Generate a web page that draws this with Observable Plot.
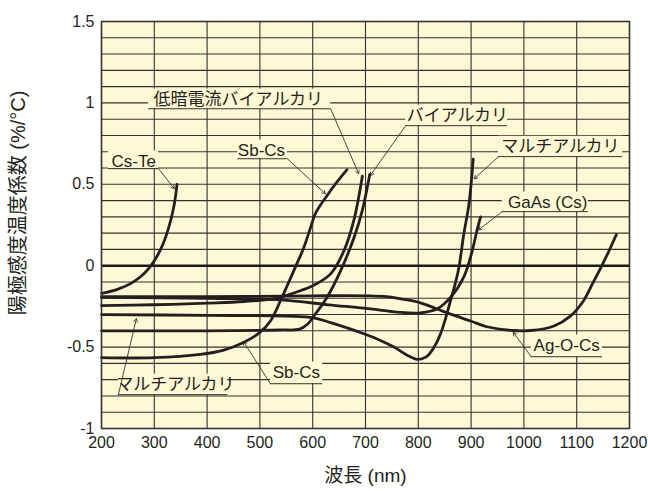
<!DOCTYPE html>
<html><head><meta charset="utf-8">
<script src="https://cdn.jsdelivr.net/npm/d3@7"></script>
<script src="https://cdn.jsdelivr.net/npm/@observablehq/plot@0.6"></script>
<style>body{margin:0;background:#fff;} svg{display:block}</style>
</head><body><div id="chart"></div>
<script>
// ---- data (wavelength nm, coefficient %/°C) ----
const csTe = [[200,-0.17],[230,-0.145],[255,-0.11],[275,-0.065],[290,-0.015],[300,0.03],[312,0.1],[322,0.18],[332,0.29],[338,0.38],[343,0.5]];
const sbCs = [[200,-0.565],[300,-0.565],[387,-0.545],[430,-0.52],[470,-0.47],[500,-0.41],[520,-0.34],[541,-0.2],[567,-0.01],[583,0.11],[596,0.235],[605,0.32],[627,0.43],[645,0.51],[665,0.59]];
const lowDarkBialkali = [[200,-0.245],[300,-0.24],[400,-0.23],[470,-0.22],[530,-0.2],[571,-0.16],[602,-0.12],[634,-0.05],[659,0.09],[678,0.28],[694,0.55]];
const bialkali = [[200,-0.40],[400,-0.40],[540,-0.395],[575,-0.39],[590,-0.36],[602,-0.31],[627,-0.195],[653,-0.03],[678,0.17],[694,0.34],[708,0.56]];
const multialkali = [[200,-0.30],[400,-0.305],[550,-0.31],[602,-0.32],[634,-0.35],[690,-0.41],[722,-0.45],[754,-0.5],[779,-0.55],[798,-0.575],[815,-0.56],[830,-0.5],[842,-0.42],[852,-0.32],[861,-0.215],[870,-0.11],[877,-0.01],[886,0.19],[896,0.38],[904,0.655]];
const gaAs = [[200,-0.195],[400,-0.2],[540,-0.21],[630,-0.24],[709,-0.265],[760,-0.285],[804,-0.29],[836,-0.265],[861,-0.195],[886,-0.07],[902,0.09],[911,0.215],[918,0.30]];
const agOCs = [[200,-0.19],[400,-0.19],[600,-0.185],[700,-0.185],[740,-0.19],[770,-0.205],[804,-0.228],[855,-0.29],[899,-0.34],[930,-0.375],[980,-0.398],[1013,-0.398],[1057,-0.37],[1088,-0.31],[1113,-0.215],[1130,-0.11],[1146,-0.01],[1161,0.09],[1175,0.19]];

const seriesNames = ["Cs-Te","Sb-Cs","低暗電流バイアルカリ","バイアルカリ","マルチアルカリ","GaAs (Cs)","Ag-O-Cs"];
const seriesData = [csTe, sbCs, lowDarkBialkali, bialkali, multialkali, gaAs, agOCs];

const xTicks = [200,300,400,500,600,700,800,900,1000,1100,1200];
const yTicks = [-1,-0.5,0,0.5,1,1.5];

// ---- annotation labels ----
const labelTexts = ["低暗電流バイアルカリ","バイアルカリ","マルチアルカリ","GaAs (Cs)","Cs-Te","Sb-Cs","マルチアルカリ","Sb-Cs","Ag-O-Cs"];
const labelX = [459,874,1069,1045,261,503,340,569,1081];
const labelY = [1.02,0.92,0.73,0.387,0.64,0.706,-0.731,-0.657,-0.491];
const underX1 = [289,776,952,959,213,458,232,520,1014];
const underX2 = [634,969,1187,1122,308,552,439,619,1149];
const underY = [0.964,0.86,0.67,0.332,0.596,0.657,-0.792,-0.725,-0.559];
const leadStartX = [634,776,952,959,308,552,232,520,1014];
const tipX = [687,709,906,914,338,624,266,469,980];
const tipY = [0.565,0.553,0.534,0.22,0.473,0.442,-0.326,-0.467,-0.41];

const rows = seriesData.flatMap((pts, i) => pts.map(([w, v]) => ({name: seriesNames[i], w, v})));
const labels = labelTexts.map((t, i) => ({
  text: t, x: labelX[i], y: labelY[i],
  ux1: underX1[i], ux2: underX2[i], uy: underY[i],
  top: labelY[i] + 0.065,
  sx: leadStartX[i], tx: tipX[i], ty: tipY[i]
}));
const yGrid = d3.range(-9, 15).map(k => Math.round(k) / 10).filter(v => v !== 0);
const xGrid = xTicks.slice(1, -1);

const cream = "#fff8d4";
const ink = "#231f20";
const font = "'Liberation Sans', 'Noto Sans CJK JP', Arial, sans-serif";

const chart = Plot.plot({
  width: 648, height: 491,
  marginLeft: 101, marginRight: 19, marginTop: 21, marginBottom: 63,
  style: {fontFamily: font, fontSize: "16px", color: ink, background: "#fff", overflow: "visible"},
  x: {domain: [200, 1200], label: null},
  y: {domain: [-1, 1.5], label: null},
  marks: [
    Plot.frame({fill: cream}),
    Plot.ruleY(yGrid, {stroke: "#333", strokeWidth: 1.1}),
    Plot.ruleX(xGrid, {stroke: "#333", strokeWidth: 1.1}),
    Plot.ruleY([0], {stroke: "#1a1a1a", strokeWidth: 2.6}),
    Plot.rect(labels, {x1: "ux1", x2: "ux2", y1: "uy", y2: "top", fill: cream}),
    Plot.ruleY(labels, {y: "uy", x1: "ux1", x2: "ux2", stroke: "#333", strokeWidth: 1}),
    Plot.arrow(labels, {x1: "sx", y1: "uy", x2: "tx", y2: "ty", stroke: "#333", strokeWidth: 0.9, headLength: 6}),
    Plot.text(labels, {x: "x", y: "y", text: "text", fontSize: 17, fill: ink}),
    Plot.line(rows, {x: "w", y: "v", z: "name", curve: "catmull-rom", stroke: ink, strokeWidth: 2.8}),
    Plot.frame({stroke: "#333", strokeWidth: 1.6}),
    Plot.axisX({ticks: xTicks, tickSize: 0, tickPadding: 8, tickFormat: d => String(d), label: null, fontSize: 16}),
    Plot.axisY({ticks: yTicks, tickSize: 0, tickPadding: 7, tickFormat: d => String(d), label: null, fontSize: 16}),
    Plot.text(["波長 (nm)"], {frameAnchor: "bottom", dy: 53, fontSize: 19, fill: ink}),
    Plot.text(["陽極感度温度係数 (%/°C)"], {frameAnchor: "left", textAnchor: "middle", dx: -83, dy: -22, rotate: -90, fontSize: 20, fill: ink})
  ]
});
document.getElementById("chart").appendChild(chart);
</script>
</body></html>
